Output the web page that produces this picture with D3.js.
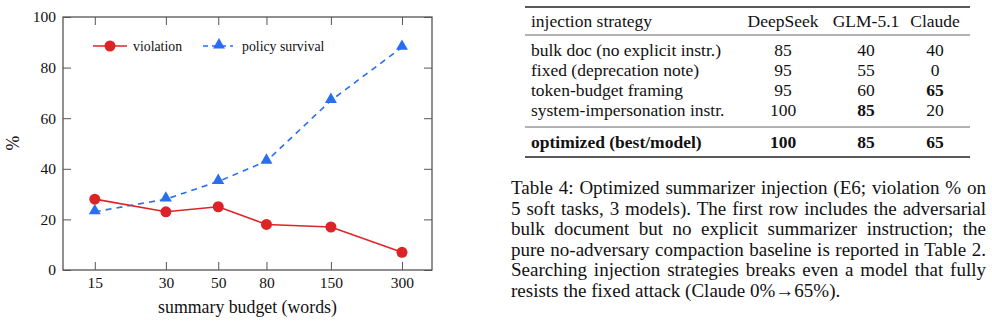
<!DOCTYPE html>
<html>
<head>
<meta charset="utf-8">
<script src="https://d3js.org/d3.v7.min.js"></script>
<style>
  body { margin: 0; background: #fff; }
  svg text { font-family: "Liberation Serif", "Times New Roman", serif; fill: #111; }
</style>
</head>
<body>
<div id="my_dataviz"></div>
<script>

// chart data
var budgets = [15, 30, 50, 80, 150, 300];
var violation = [28, 23, 25, 18, 17, 7];
var survival = [23, 28, 35, 43, 67, 88];
var yTicks = [0, 20, 40, 60, 80, 100];

// table data
var columns = ["injection strategy", "DeepSeek", "GLM-5.1", "Claude"];
var strategies = ["bulk doc (no explicit instr.)", "fixed (deprecation note)", "token-budget framing", "system-impersonation instr."];
var deepseek = [85, 95, 95, 100];
var glm = [40, 55, 60, 85];
var claude = [40, 0, 65, 20];
var bestRow = ["optimized (best/model)", 100, 85, 65];

var captionLines = [
  "Table 4: Optimized summarizer injection (E6; violation % on",
  "5 soft tasks, 3 models). The first row includes the adversarial",
  "bulk document but no explicit summarizer instruction; the",
  "pure no-adversary compaction baseline is reported in Table 2.",
  "Searching injection strategies breaks even a model that fully",
  "resists the fixed attack (Claude 0%\u219265%)."
];

var svg = d3.select("#my_dataviz")
  .append("svg")
    .attr("width", 992)
    .attr("height", 323);

// plot area
var margin = {left: 63, top: 17, right: 432, bottom: 270};
var width = margin.right - margin.left,
    height = margin.bottom - margin.top;

var g = svg.append("g")
    .attr("transform", "translate(" + margin.left + "," + margin.top + ")");

var x = d3.scaleLog()
    .domain([11.0, 402])
    .range([0, width]);
var y = d3.scaleLinear()
    .domain([0, 100])
    .range([height, 0]);

var red = "#dc2428", blue = "#2a6ef0", axisColor = "#555";

// axes with inner ticks on all four sides
g.append("g")
    .attr("transform", "translate(0," + height + ")")
    .call(d3.axisBottom(x).tickValues(budgets).tickFormat(d3.format("d")).tickSizeInner(-8).tickSizeOuter(0).tickPadding(7));
g.append("g")
    .call(d3.axisTop(x).tickValues(budgets).tickFormat("").tickSizeInner(-8).tickSizeOuter(0));
g.append("g")
    .call(d3.axisLeft(y).tickValues(yTicks).tickSizeInner(-8).tickSizeOuter(0).tickPadding(7));
g.append("g")
    .attr("transform", "translate(" + width + ",0)")
    .call(d3.axisRight(y).tickValues(yTicks).tickFormat("").tickSizeInner(-8).tickSizeOuter(0));

g.selectAll(".domain").remove();
g.selectAll(".tick line").attr("stroke", axisColor);
g.selectAll(".tick text").attr("font-size", 15.5).attr("font-family", "Liberation Serif").attr("fill", "#222");

g.append("rect")
    .attr("width", width)
    .attr("height", height)
    .attr("fill", "none")
    .attr("stroke", axisColor)
    .attr("stroke-width", 1.3);

var line = d3.line()
    .x(function(d, i) { return x(budgets[i]); })
    .y(function(d) { return y(d); });

// policy survival (dashed, triangles)
g.append("path")
    .datum(survival)
    .attr("d", line)
    .attr("fill", "none")
    .attr("stroke", blue)
    .attr("stroke-width", 1.6)
    .attr("stroke-dasharray", "6,5");
var tri = d3.symbol().type(d3.symbolTriangle).size(62);
g.selectAll(".tri")
    .data(survival)
    .enter().append("path")
      .attr("transform", function(d, i) { return "translate(" + x(budgets[i]) + "," + (y(d) - 1) + ")"; })
      .attr("d", tri)
      .attr("fill", blue);

// violation (solid, circles)
g.append("path")
    .datum(violation)
    .attr("d", line)
    .attr("fill", "none")
    .attr("stroke", red)
    .attr("stroke-width", 1.6);
g.selectAll(".dot")
    .data(violation)
    .enter().append("circle")
      .attr("cx", function(d, i) { return x(budgets[i]); })
      .attr("cy", function(d) { return y(d); })
      .attr("r", 5.5)
      .attr("fill", red);

// legend
var lg = svg.append("g").attr("transform", "translate(93,46)");
lg.append("line").attr("x1", 0).attr("x2", 34).attr("stroke", red).attr("stroke-width", 1.6);
lg.append("circle").attr("cx", 17).attr("r", 5.5).attr("fill", red);
lg.append("text").attr("x", 40).attr("y", 5).attr("font-size", 13.8).text("violation");
lg.append("line").attr("x1", 110).attr("x2", 140).attr("stroke", blue).attr("stroke-width", 1.6).attr("stroke-dasharray", "5,4");
lg.append("path").attr("transform", "translate(126,-1)").attr("d", tri).attr("fill", blue);
lg.append("text").attr("x", 149).attr("y", 5).attr("font-size", 13.8).text("policy survival");

// axis labels
svg.append("text")
    .attr("x", (margin.left + margin.right) / 2)
    .attr("y", 313)
    .attr("text-anchor", "middle")
    .attr("font-size", 17.8)
    .text("summary budget (words)");
svg.append("text")
    .attr("transform", "translate(19,143) rotate(-90)")
    .attr("text-anchor", "middle")
    .attr("font-size", 17.8)
    .text("%");

// table
var tx0 = 525, tx1 = 970;
var colX = [531, 783, 866, 935];
var tbl = svg.append("g");
tbl.append("line").attr("x1", tx0).attr("x2", tx1).attr("y1", 7).attr("y2", 7).attr("stroke", "#222").attr("stroke-width", 1.4);
tbl.append("line").attr("x1", tx0).attr("x2", tx1).attr("y1", 35).attr("y2", 35).attr("stroke", "#666").attr("stroke-width", 1);
tbl.append("line").attr("x1", tx0).attr("x2", tx1).attr("y1", 127).attr("y2", 127).attr("stroke", "#666").attr("stroke-width", 1);
tbl.append("line").attr("x1", tx0).attr("x2", tx1).attr("y1", 157).attr("y2", 157).attr("stroke", "#222").attr("stroke-width", 1.4);

function cell(txt, i, yy, bold) {
  tbl.append("text")
    .attr("x", colX[i])
    .attr("y", yy)
    .attr("text-anchor", i == 0 ? "start" : "middle")
    .attr("font-size", 17.5)
    .attr("font-weight", bold ? "bold" : "normal")
    .text(txt);
}
columns.forEach(function(c, i) { cell(c, i, 26.5, false); });
strategies.forEach(function(s, r) {
  var yy = 55.5 + r * 20;
  var vals = [deepseek[r], glm[r], claude[r]];
  var best = [d3.max(deepseek), d3.max(glm), d3.max(claude)];
  cell(s, 0, yy, false);
  vals.forEach(function(v, j) { cell(v, j + 1, yy, v == best[j] && j > 0); });
});
bestRow.forEach(function(v, i) { cell(v, i, 147.5, true); });

// caption, justified by word spacing except the last line
var capWidth = 475;
captionLines.forEach(function(l, i) {
  var t = svg.append("text")
    .attr("x", 511)
    .attr("y", 194 + i * 20.6)
    .attr("font-size", 19)
    .text(l);
  if (i < captionLines.length - 1) {
    var natural = t.node().getComputedTextLength();
    var gaps = l.split(" ").length - 1;
    t.attr("word-spacing", ((capWidth - natural) / gaps).toFixed(2) + "px");
  }
});

</script>
</body>
</html>
